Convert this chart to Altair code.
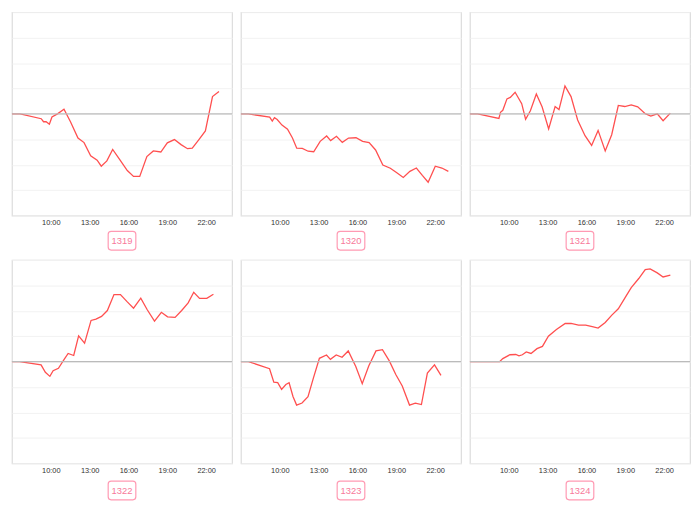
import altair as alt
import pandas as pd

LABELS = ["1319", "1320", "1321", "1322", "1323", "1324"]

HOURS_1319 = [7.0, 7.63, 9.26, 9.44, 9.64, 9.89, 10.09, 10.52, 11.02, 11.52, 12.1, 12.57, 13.08, 13.58, 13.9, 14.33,
              14.78, 15.34, 15.91, 16.39, 16.87, 17.42, 17.92, 18.5, 19.0, 19.55, 20.06, 20.56, 20.93, 21.44, 21.94,
              22.49, 22.99]
VALUES_1319 = [0, 0, -0.19, -0.31, -0.31, -0.41, -0.12, 0, 0.18, -0.31, -0.95, -1.13, -1.65, -1.82, -2.06, -1.85,
               -1.40, -1.81, -2.23, -2.46, -2.46, -1.68, -1.46, -1.5, -1.14, -1.01, -1.21, -1.37, -1.35, -1.01, -0.67,
               0.68, 0.88]

HOURS_1320 = [7.0, 7.58, 9.22, 9.42, 9.59, 9.8, 10.17, 10.6, 10.98, 11.31, 11.74, 12.19, 12.62, 13.12, 13.62, 13.93,
              14.38, 14.83, 15.31, 15.89, 16.4, 16.9, 17.4, 17.96, 18.54, 19.04, 19.54, 20.05, 20.55, 21.01, 21.46,
              22.01, 22.52, 23.02]
VALUES_1320 = [0, 0, -0.13, -0.28, -0.15, -0.22, -0.44, -0.60, -0.95, -1.35, -1.36, -1.47, -1.49, -1.08, -0.87, -1.05,
               -0.88, -1.12, -0.95, -0.94, -1.08, -1.13, -1.42, -2.01, -2.14, -2.32, -2.5, -2.26, -2.13, -2.42, -2.69,
               -2.06, -2.13, -2.26]

HOURS_1321 = [7.0, 7.6, 9.24, 9.36, 9.54, 9.86, 10.12, 10.49, 11.0, 11.3, 11.67, 12.13, 12.58, 13.08, 13.58, 13.88,
              14.34, 14.81, 15.32, 15.89, 16.4, 16.9, 17.45, 17.95, 18.46, 18.96, 19.46, 19.96, 20.54, 20.97, 21.47,
              21.92, 22.48]
VALUES_1321 = [0, 0, -0.18, 0.06, 0.14, 0.59, 0.65, 0.85, 0.40, -0.21, 0.12, 0.78, 0.27, -0.59, 0.29, 0.17,
               1.10, 0.68, -0.24, -0.86, -1.24, -0.65, -1.46, -0.82, 0.33, 0.29, 0.35, 0.28, 0.01, -0.09, 0,
               -0.27, 0.03]

HOURS_1322 = [7.0, 7.6, 9.25, 9.58, 9.93, 10.18, 10.59, 11.02, 11.34, 11.77, 12.15, 12.61, 13.11, 13.49, 13.92, 14.37,
              14.88, 15.38, 15.89, 16.39, 16.95, 17.45, 18.01, 18.54, 19.02, 19.6, 20.11, 20.61, 21.04, 21.49, 22.05,
              22.56]
VALUES_1322 = [0, 0, -0.13, -0.42, -0.58, -0.36, -0.26, 0.08, 0.32, 0.24, 1.01, 0.73, 1.62, 1.67, 1.78, 2.01,
               2.64, 2.64, 2.36, 2.10, 2.5, 2.04, 1.59, 1.94, 1.76, 1.74, 2.01, 2.31, 2.73, 2.49, 2.49,
               2.65]

HOURS_1323 = [7.0, 7.58, 9.21, 9.54, 9.84, 10.14, 10.47, 10.72, 11.02, 11.3, 11.72, 12.18, 12.6, 13.06, 13.61, 13.91,
              14.36, 14.81, 15.29, 15.87, 16.37, 16.87, 17.43, 17.93, 18.46, 18.96, 19.46, 20.02, 20.47, 20.94, 21.4,
              21.95, 22.45]
VALUES_1323 = [0, 0, -0.28, -0.81, -0.83, -1.09, -0.90, -0.83, -1.37, -1.71, -1.63, -1.38, -0.64, 0.13, 0.26, 0.09,
               0.26, 0.17, 0.42, -0.19, -0.87, -0.17, 0.42, 0.47, 0.03, -0.51, -0.96, -1.71, -1.63, -1.69, -0.45,
               -0.13, -0.54]

HOURS_1324 = [7.0, 9.29, 9.54, 10.09, 10.54, 10.79, 11.05, 11.35, 11.72, 12.18, 12.6, 13.06, 13.68, 14.36, 14.81, 15.39,
              15.94, 16.45, 16.9, 17.45, 17.96, 18.46, 19.01, 19.46, 20.04, 20.54, 20.92, 21.47, 21.92, 22.48]
VALUES_1324 = [0, 0, 0.12, 0.27, 0.28, 0.23, 0.27, 0.38, 0.32, 0.51, 0.60, 1.0, 1.26, 1.5, 1.5, 1.44,
               1.44, 1.38, 1.32, 1.54, 1.83, 2.08, 2.54, 2.91, 3.27, 3.62, 3.65, 3.49, 3.33, 3.4]

X_TICKS = [10, 13, 16, 19, 22]
Y_GRID = [-4, -3, -2, -1, 0, 1, 2, 3, 4]

SERIES = [
    (LABELS[0], HOURS_1319, VALUES_1319),
    (LABELS[1], HOURS_1320, VALUES_1320),
    (LABELS[2], HOURS_1321, VALUES_1321),
    (LABELS[3], HOURS_1322, VALUES_1322),
    (LABELS[4], HOURS_1323, VALUES_1323),
    (LABELS[5], HOURS_1324, VALUES_1324),
]

W, H = 223, 206
LINE_COLOR = "#ff4f4f"
PINK = "#f7799a"
FONT = "Liberation Sans"


def panel(label, hours, values, box_off):
    df = pd.DataFrame({"hour": hours, "value": values})
    yscale = alt.Scale(domain=[-4, 4], nice=False)
    yaxis = alt.Axis(values=Y_GRID, labels=False, ticks=False, domain=False, title=None,
                     grid=True, gridColor="#f2f2f2", gridWidth=1)
    x = alt.X("hour:Q", scale=alt.Scale(domain=[7, 24], nice=False, zero=False),
              axis=alt.Axis(values=X_TICKS, labelExpr="datum.value + ':00'", title=None,
                            grid=False, ticks=False, domain=False, labelFontSize=7.5,
                            labelColor="#333", labelPadding=3, labelFont=FONT))
    y = alt.Y("value:Q", scale=yscale, axis=yaxis)
    line = alt.Chart(df).mark_line(color=LINE_COLOR, strokeWidth=1.3).encode(x=x, y=y)
    zero = alt.Chart(pd.DataFrame({"z": [0]})).mark_rule(color="#bbbbbb", strokeWidth=1.5).encode(
        y=alt.Y(datum=0, scale=yscale, axis=yaxis))
    lab = pd.DataFrame({"label": [label]})
    box = alt.Chart(lab).mark_rect(fill="white", stroke="#ff9ab3", strokeWidth=1.2, cornerRadius=3).encode(
        x=alt.value(W / 2 - 14), x2=alt.value(W / 2 + 14),
        y=alt.value(H + box_off), y2=alt.value(H + box_off + 19))
    txt = alt.Chart(lab).mark_text(color=PINK, fontSize=9.5, font=FONT, baseline="middle", align="center").encode(
        x=alt.value(W / 2), y=alt.value(H + box_off + 10), text="label:N")
    return alt.layer(line, zero, box, txt).properties(width=W, height=H)


panels = [panel(*s, 16 if i < 3 else 18) for i, s in enumerate(SERIES)]
chart = alt.concat(*panels, columns=3, spacing={"row": 45, "column": 9}, bounds="flush").properties(
    padding={"left": 0, "top": 0, "right": 0, "bottom": 0}
).configure_view(stroke="#dcdcdc", strokeWidth=1.2)

chart.save("out.html", embed_options={"renderer": "svg", "actions": False})
